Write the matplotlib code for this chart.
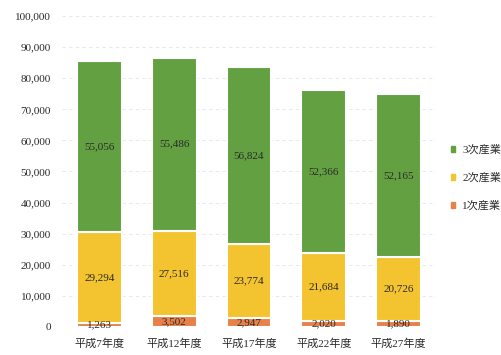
import numpy as np
import matplotlib.pyplot as plt
from matplotlib.patches import Patch

plt.rcParams['font.family'] = ['Liberation Serif', 'Noto Sans CJK JP']

years = ['平成7年度', '平成12年度', '平成17年度', '平成22年度', '平成27年度']
primary = [1263, 3502, 2947, 2020, 1890]
secondary = [29294, 27516, 23774, 21684, 20726]
tertiary = [55056, 55486, 56824, 52366, 52165]

c1 = '#e8804a'
c2 = '#f3c42f'
c3 = '#63a041'

fig = plt.figure(figsize=(5.01, 3.55), dpi=100)
ax = fig.add_axes([62/501, 28/355, 374/501, 311/355])

x = np.arange(len(years))
w = 0.6
ax.bar(x, primary, w, color=c1, edgecolor='white', linewidth=1.5, zorder=2)
ax.bar(x, secondary, w, bottom=primary, color=c2, edgecolor='white', linewidth=1.5, zorder=2)
bottom3 = np.array(primary) + np.array(secondary)
ax.bar(x, tertiary, w, bottom=bottom3, color=c3, edgecolor='white', linewidth=1.5, zorder=2)

for i in range(len(years)):
    ax.text(x[i], primary[i] / 2, f'{primary[i]:,}', ha='center', va='center',
            fontsize=8, color='#2a2a2a', zorder=3)
    ax.text(x[i], primary[i] + secondary[i] / 2, f'{secondary[i]:,}', ha='center', va='center',
            fontsize=8, color='#2a2a2a', zorder=3)
    ax.text(x[i], bottom3[i] + tertiary[i] / 2, f'{tertiary[i]:,}', ha='center', va='center',
            fontsize=8, color='#2a2a2a', zorder=3)

ax.set_ylim(0, 100000)
ax.set_xlim(-0.5, 4.5)
ax.set_yticks(np.arange(0, 100001, 10000))
ax.set_yticklabels([f'{v:,}' for v in range(0, 100001, 10000)])
ax.set_xticks(x)
ax.set_xticklabels(years)
ax.tick_params(length=0, labelsize=8, colors='#2a2a2a')
ax.tick_params(axis='y', pad=8)
ax.tick_params(axis='x', pad=8)
for s in ax.spines.values():
    s.set_visible(False)
ax.yaxis.grid(True, color='#e4e4e4', linewidth=0.6, linestyle=(0, (4, 4)), zorder=0)
ax.set_axisbelow(True)

handles = [Patch(color=c3, label='3次産業'), Patch(color=c2, label='2次産業'), Patch(color=c1, label='1次産業')]
fig.legend(handles=handles, loc='center left', bbox_to_anchor=(441/501, 1 - 178/355),
           frameon=False, fontsize=8, handlelength=0.4, handleheight=0.4,
           handletextpad=0.6, labelspacing=1.6, labelcolor='#2a2a2a')

plt.savefig('out.png', dpi=100)
